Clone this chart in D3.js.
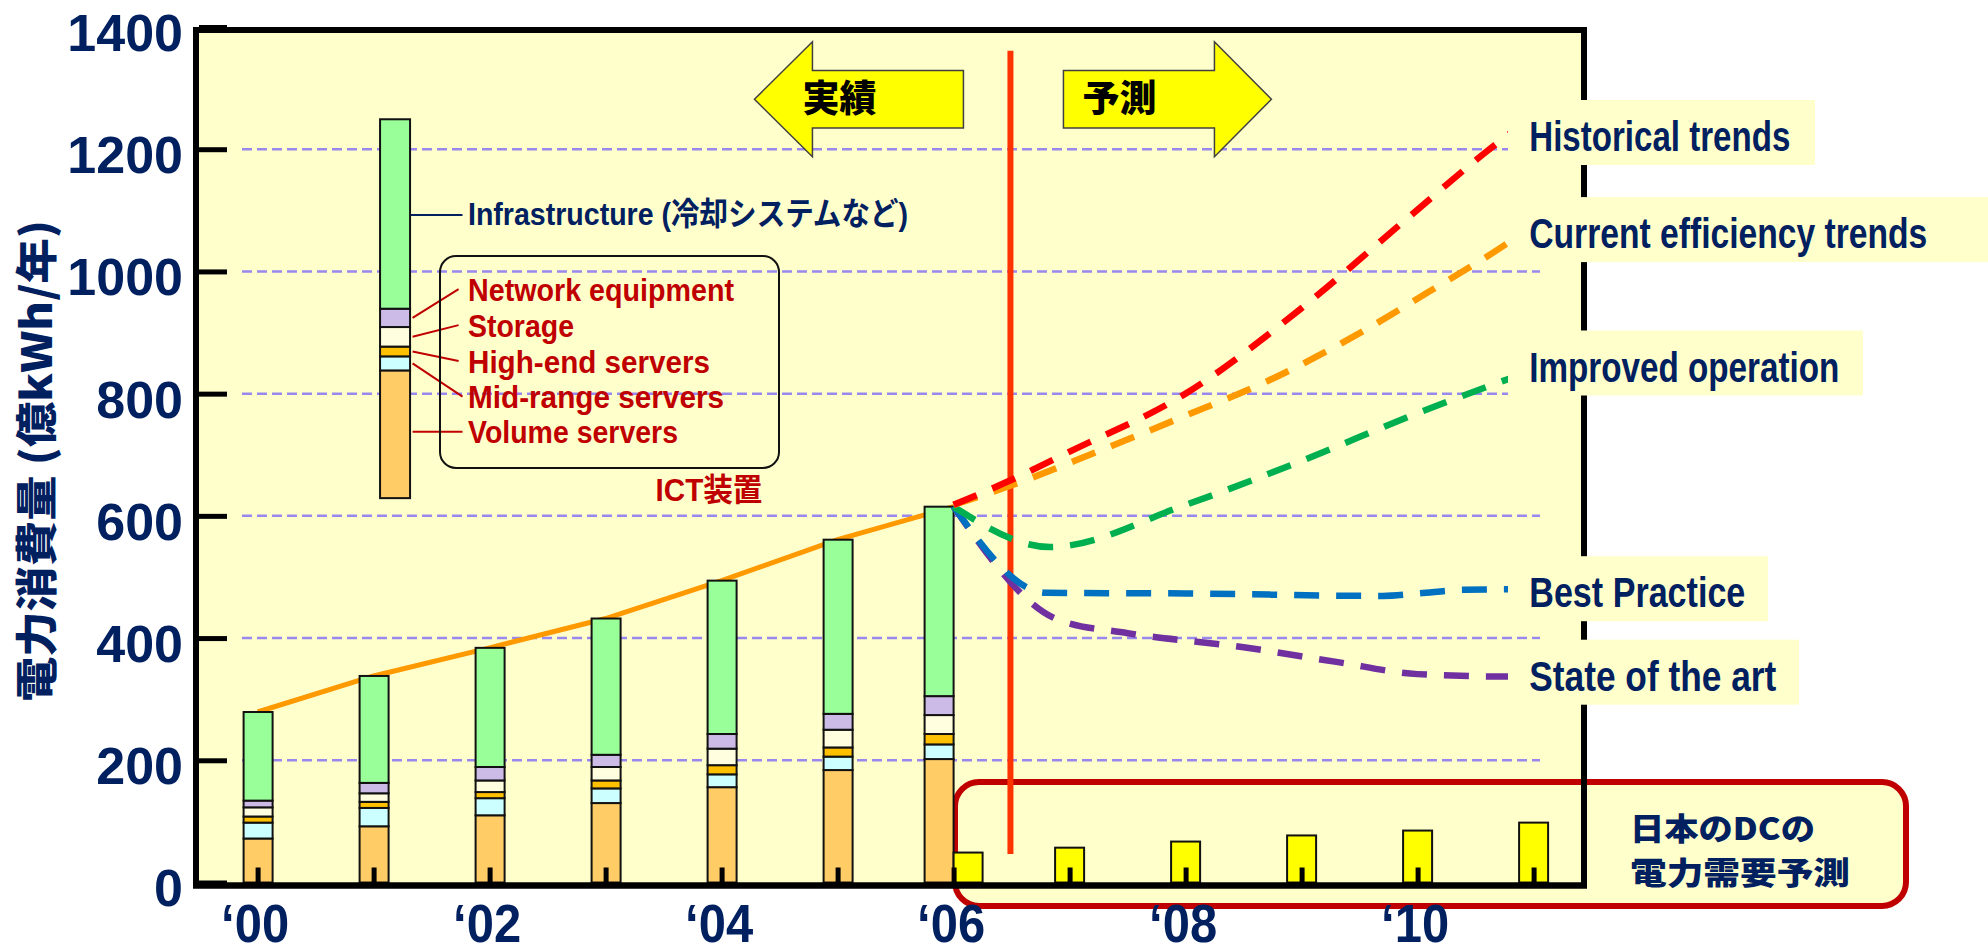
<!DOCTYPE html>
<html><head><meta charset="utf-8">
<script src="https://cdn.jsdelivr.net/npm/d3@7/dist/d3.min.js"></script>
<style>html,body{margin:0;padding:0;background:#fff;}svg{display:block;}</style>
</head><body>
<svg id="chart" width="1988" height="945"></svg>
<script>
// ---------------- DATA ----------------
const years = [2000, 2001, 2002, 2003, 2004, 2005, 2006];
const volumeServers   = [72, 92, 110, 130, 156, 184, 202];
const midrangeServers = [26, 30, 28, 24, 21, 22, 24];
const highendServers  = [10, 10, 10, 13, 15, 15, 17];
const storage         = [15, 14, 19, 22, 27, 29, 31];
const networkEquip    = [11, 17, 22, 20, 24, 26, 31];
const infrastructure  = [145, 175, 195, 223, 251, 285, 310];

const segmentNames = ["Volume servers", "Mid-range servers", "High-end servers", "Storage", "Network equipment", "Infrastructure"];
const segmentColors = ["#FFCC66", "#CCFFFF", "#FFC000", "#FFFFE0", "#CCBBE6", "#99FF99"];

// legend column (same composition, drawn from base value)
const legendBase = 629;
const legendSegments = [209, 23, 16, 32, 30, 310];

// Japan DC electricity demand forecast (yellow bars)
const dcYears  = [2006, 2007, 2008, 2009, 2010, 2011];
const dcDemand = [49, 57, 67, 77, 85, 98];

// projection scenarios
const histYears = [2006, 2006.5, 2007, 2008, 2009, 2009.9, 2010.6, 2011];
const histVals  = [618, 659, 705, 800, 940, 1085, 1197, 1255];
const currYears = [2006, 2006.5, 2007.2, 2008, 2008.7, 2009.5, 2010.1, 2010.75, 2011];
const currVals  = [618, 650, 702, 764, 820, 899, 967, 1043, 1075];
const imprYears = [2006, 2006.83, 2008, 2009, 2010, 2010.8, 2011];
const imprVals  = [615, 549, 618, 690, 768, 825, 838];
const bestYears = [2006, 2006.8, 2008, 2009.7, 2010.0, 2010.4, 2011];
const bestVals  = [615, 474, 473, 469, 473, 479, 480];
const stateYears = [2006, 2006.9, 2007.5, 2008.5, 2009.3, 2010, 2010.8, 2011];
const stateVals  = [615, 430, 408, 385, 361, 341, 337, 337];

const scenarioNames  = ["Historical trends", "Current efficiency trends", "Improved operation", "Best Practice", "State of the art"];
const scenarioColors = ["#FF0000", "#FF9900", "#00B050", "#0070C0", "#7030A0"];

const yTicks = [0, 200, 400, 600, 800, 1000, 1200, 1400];
const xTickYears = [2000, 2001, 2002, 2003, 2004, 2005, 2006, 2007, 2008, 2009, 2010, 2011];
const xTickLabel = y => (y % 2 === 0 ? "\u2018" + String(y).slice(2) : "");

// ---------------- LAYOUT ----------------
const svg = d3.select("#chart");
const navy = "#002060", darkRed = "#C00000";
const latin = "'Liberation Sans Narrow','Liberation Sans',Arial,sans-serif";
const latinB = "'Liberation Sans',Arial,sans-serif";
const cjk = "'Noto Sans CJK JP','Liberation Sans',sans-serif";
const mixed = "'Liberation Sans','Noto Sans CJK JP',sans-serif";

const frame = {left: 196, right: 1584, top: 30, bottom: 885.5};
const x = d3.scaleLinear().domain([2000, 2011]).range([257.6, 1533.6]);
const y = d3.scaleLinear().domain([0, 1400]).range([882.5, 27]);
const barW = 29;

function txt(g, s, px, py, o) {
  const t = g.append("text").attr("x", px).attr("y", py).text(s)
    .attr("font-family", o.family || mixed)
    .attr("font-size", o.size || 30)
    .attr("font-weight", o.weight || "bold")
    .attr("fill", o.fill || navy);
  if (o.len) t.attr("textLength", o.len).attr("lengthAdjust", "spacingAndGlyphs");
  if (o.anchor) t.attr("text-anchor", o.anchor);
  if (o.transform) t.attr("transform", o.transform);
  if (o.baseline) t.attr("dominant-baseline", o.baseline);
  return t;
}

// plot background
svg.append("rect").attr("x", frame.left).attr("y", frame.top)
  .attr("width", frame.right - frame.left).attr("height", frame.bottom - frame.top)
  .attr("fill", "#FFFFCC");

// gridlines
svg.append("g").selectAll("line").data(yTicks.filter(v => v > 0 && v < 1400)).join("line")
  .attr("x1", 242).attr("x2", 1540)
  .attr("y1", d => y(d)).attr("y2", d => y(d))
  .attr("stroke", "#9988EE").attr("stroke-width", 2.5).attr("stroke-dasharray", "10,5");

// DC forecast box
svg.append("rect").attr("x", 955).attr("y", 782).attr("width", 951).attr("height", 124)
  .attr("rx", 24).attr("fill", "#FFFFCC").attr("stroke", darkRed).attr("stroke-width", 6);

// arrows 実績 / 予測
const xd = x(2006.49);
const ay = 99.3, bh = 28.8, hh = 57.5;
const leftArrow = [[xd-256, ay], [xd-198, ay-hh], [xd-198, ay-bh], [xd-47, ay-bh], [xd-47, ay+bh], [xd-198, ay+bh], [xd-198, ay+hh]];
const rightArrow = [[xd+53, ay-bh], [xd+204, ay-bh], [xd+204, ay-hh], [xd+261, ay], [xd+204, ay+hh], [xd+204, ay+bh], [xd+53, ay+bh]];
[leftArrow, rightArrow].forEach(p => svg.append("path").attr("d", "M" + p.join("L") + "Z")
  .attr("fill", "#FFFF00").attr("stroke", "#404040").attr("stroke-width", 1.5));
txt(svg, "実績", xd-171, ay+13, {family: cjk, size: 37, weight: 900, fill: "#000", anchor: "middle"});
txt(svg, "予測", xd+109, ay+13, {family: cjk, size: 37, weight: 900, fill: "#000", anchor: "middle"});

// ---------------- LEGEND COLUMN ----------------
const lg = svg.append("g");
const lgX = x(2001.185);
let acc = legendBase;
const lgSegs = legendSegments.map((v, i) => { const s = {y0: acc, y1: acc + v, i}; acc += v; return s; });
lg.selectAll("rect").data(lgSegs).join("rect")
  .attr("x", lgX - barW/2 - 0.5).attr("width", barW + 1)
  .attr("y", d => y(d.y1)).attr("height", d => y(d.y0) - y(d.y1))
  .attr("fill", d => segmentColors[d.i]).attr("stroke", "#111").attr("stroke-width", 2);
// labels
const lgLabelX = 468;
const redLabels = [
  {s: "Network equipment", base: 300.7, len: 266, seg: 4},
  {s: "Storage", base: 336.7, len: 106, seg: 3},
  {s: "High-end servers", base: 372.7, len: 242, seg: 2},
  {s: "Mid-range servers", base: 408.3, len: 256, seg: 1},
  {s: "Volume servers", base: 443.3, len: 210, seg: 0}
];
redLabels.forEach(l => {
  const sg = lgSegs[l.seg];
  let sy = (y(sg.y0) + y(sg.y1)) / 2;
  if (l.seg === 0) sy = l.base - 11.6;
  lg.append("line").attr("x1", lgX + barW/2 + 3).attr("y1", sy)
    .attr("x2", l.seg === 0 || l.seg === 1 ? 462.5 : 458.6).attr("y2", l.base - 11.6)
    .attr("stroke", darkRed).attr("stroke-width", 2);
  txt(lg, l.s, lgLabelX, l.base, {family: latinB, size: 32, fill: darkRed, len: l.len});
});
const infraY = 215;
lg.append("line").attr("x1", lgX + barW/2 + 1).attr("x2", 462.5).attr("y1", infraY).attr("y2", infraY)
  .attr("stroke", navy).attr("stroke-width", 2);
txt(lg, "Infrastructure (冷却システムなど)", lgLabelX, 225, {family: mixed, size: 32, len: 440});
lg.append("rect").attr("x", 440).attr("y", 256).attr("width", 339).attr("height", 212)
  .attr("rx", 16).attr("fill", "none").attr("stroke", "#111").attr("stroke-width", 2);
txt(lg, "ICT装置", 709 - 53.5, 500.7, {size: 32, fill: darkRed, len: 107});

// ---------------- STACKED BARS ----------------
const stackRows = years.map((yr, i) => ({
  year: yr,
  v: [volumeServers[i], midrangeServers[i], highendServers[i], storage[i], networkEquip[i], infrastructure[i]]
}));
const totals = stackRows.map(r => d3.sum(r.v));
// total line
svg.append("path").datum(years.map((yr, i) => [yr, totals[i]]))
  .attr("d", d3.line().x(d => x(d[0])).y(d => y(d[1])))
  .attr("fill", "none").attr("stroke", "#FF9900").attr("stroke-width", 5);

const barCenter = yr => x(yr) + (yr === 2006 ? -14.5 : 0.5);
const bars = svg.append("g");
stackRows.forEach(r => {
  let a = 0;
  r.v.forEach((v, i) => {
    bars.append("rect").attr("x", barCenter(r.year) - barW/2).attr("width", barW)
      .attr("y", y(a + v)).attr("height", y(a) - y(a + v))
      .attr("fill", segmentColors[i]).attr("stroke", "#111").attr("stroke-width", 2);
    a += v;
  });
});

// divider line
svg.append("line").attr("x1", xd).attr("x2", xd).attr("y1", 50.7).attr("y2", 854)
  .attr("stroke", "#FF3300").attr("stroke-width", 6);

// ---------------- PROJECTIONS ----------------
const scen = [
  [stateYears, stateVals, 4], [bestYears, bestVals, 3], [imprYears, imprVals, 2],
  [currYears, currVals, 1], [histYears, histVals, 0]
];
const projLine = d3.line().x(d => x(d[0])).y(d => y(d[1])).curve(d3.curveMonotoneX);
scen.forEach(([ys, vs, k]) => {
  svg.append("path").datum(ys.map((yy, i) => [yy, vs[i]]))
    .attr("d", projLine).attr("fill", "none")
    .attr("stroke", scenarioColors[k]).attr("stroke-width", 6.5)
    .attr("stroke-dasharray", "25,17");
});

// DC demand bars
svg.append("g").selectAll("rect").data(dcYears.map((yy, i) => ({yy, v: dcDemand[i]}))).join("rect")
  .attr("x", d => (d.yy === 2006 ? x(d.yy) : x(d.yy) - barW/2))
  .attr("width", barW)
  .attr("y", d => y(d.v)).attr("height", d => y(0) - y(d.v))
  .attr("fill", "#FFFF00").attr("stroke", "#111").attr("stroke-width", 2);

// ---------------- AXES ----------------
const yAxis = svg.append("g").attr("transform", `translate(${frame.left},0)`)
  .call(d3.axisLeft(y).tickValues(yTicks).tickFormat(d3.format("d")).tickSizeInner(-31).tickSizeOuter(0).tickPadding(13));
yAxis.select(".domain").remove();
yAxis.selectAll(".tick line").attr("stroke", "#000").attr("stroke-width", 5)
  .attr("x1", 3);
yAxis.selectAll(".tick text").attr("fill", navy).attr("font-family", latinB)
  .attr("font-weight", "bold").attr("font-size", 52).attr("dy", "0.45em");

const xAxis = svg.append("g").attr("transform", `translate(0,${y(0)})`)
  .call(d3.axisBottom(x).tickValues(xTickYears).tickFormat(xTickLabel).tickSizeInner(-15).tickSizeOuter(0).tickPadding(0));
xAxis.select(".domain").remove();
xAxis.selectAll(".tick line").attr("stroke", "#000").attr("stroke-width", 5);
xAxis.selectAll(".tick text").attr("fill", navy).attr("font-family", latin)
  .attr("font-weight", "bold").attr("font-size", 54)
  .attr("text-anchor", "start").attr("x", -37).attr("y", 59).attr("dy", 0)
  .attr("textLength", 68).attr("lengthAdjust", "spacingAndGlyphs");
xAxis.selectAll(".tick text").filter(function() { return this.textContent === ""; }).remove();

// frame
svg.append("path")
  .attr("d", `M${frame.left},${frame.bottom}V${frame.top}H${frame.right}V${frame.bottom}`)
  .attr("fill", "none").attr("stroke", "#000").attr("stroke-width", 6).attr("stroke-linejoin", "miter");
svg.append("line").attr("x1", frame.left - 3).attr("x2", frame.right + 3)
  .attr("y1", frame.bottom).attr("y2", frame.bottom).attr("stroke", "#000").attr("stroke-width", 6.5);

// y axis title
txt(svg, "電力消費量 (億kWh/年)", 0, 0, {family: cjk, size: 42, weight: 900, len: 482,
  anchor: "start", baseline: "central", transform: "translate(33,702) rotate(-90)"});

// ---------------- RIGHT LABELS ----------------
const rl = [
  {c: 135.5, right: 1815, len: 261},
  {c: 232.6, right: 1988, len: 398},
  {c: 366.0, right: 1863, len: 310},
  {c: 591.7, right: 1768, len: 216},
  {c: 675.2, right: 1799, len: 247}
];
const rg = svg.append("g");
rl.forEach((l, i) => {
  rg.append("rect").attr("x", 1508).attr("y", l.c - 35.5).attr("width", l.right - 1508).attr("height", 65)
    .attr("fill", "#FFFFCC");
  txt(rg, scenarioNames[i], 1529.3, l.c + 15.5, {family: latinB, size: 42, len: l.len});
});

// DC box texts
txt(svg, "日本のDCの", 1630, 840, {family: cjk, size: 31, weight: 900, len: 185});
txt(svg, "電力需要予測", 1630, 884, {family: cjk, size: 31, weight: 900, len: 220});
</script>
</body></html>
